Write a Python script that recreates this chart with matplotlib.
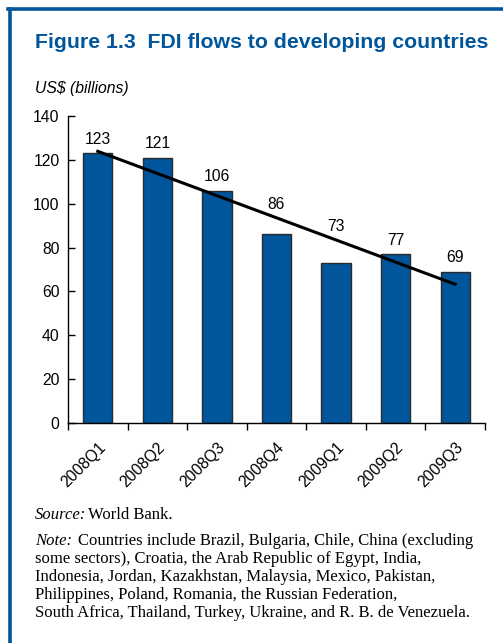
import matplotlib
matplotlib.use('Agg')
import matplotlib.pyplot as plt
import numpy as np

quarters = ['2008Q1', '2008Q2', '2008Q3', '2008Q4', '2009Q1', '2009Q2', '2009Q3']
fdi = [123, 121, 106, 86, 73, 77, 69]
yticks = [0, 20, 40, 60, 80, 100, 120, 140]

title = 'Figure 1.3  FDI flows to developing countries'
unit = 'US$ (billions)'
source = 'World Bank.'
note_lines = [
    'Countries include Brazil, Bulgaria, Chile, China (excluding',
    'some sectors), Croatia, the Arab Republic of Egypt, India,',
    'Indonesia, Jordan, Kazakhstan, Malaysia, Mexico, Pakistan,',
    'Philippines, Poland, Romania, the Russian Federation,',
    'South Africa, Thailand, Turkey, Ukraine, and R. B. de Venezuela.',
]

blue = '#00559b'
plt.rcParams['font.family'] = ['Liberation Sans', 'DejaVu Sans']

fig = plt.figure(figsize=(5.03, 6.43), dpi=100)

# frame: top and left blue rules
fig.add_artist(plt.Line2D([9.5 / 503, 9.5 / 503], [0, 1 - 8.5 / 643], color=blue, lw=2.6,
                          transform=fig.transFigure))
fig.add_artist(plt.Line2D([8.2 / 503, 1], [1 - 8.5 / 643, 1 - 8.5 / 643], color=blue, lw=2.6,
                          transform=fig.transFigure))

fig.text(35 / 503, 1 - 42 / 643, title, color=blue, fontsize=15.3, fontweight='bold',
         va='center', ha='left')
fig.text(35 / 503, 1 - 89 / 643, unit, fontsize=11.3, style='italic', va='center', ha='left')

ax = fig.add_axes([68 / 503, 1 - 423 / 643, (485 - 68) / 503, (423 - 116) / 643])
x = np.arange(len(quarters))
ax.bar(x, fdi, width=0.49, color=blue, edgecolor='#2a2a2a', linewidth=1.0, zorder=2)

# linear trend
k, b = np.polyfit(x, fdi, 1)
trend = k * x + b
ax.plot([x[0], x[-1]], [trend[0], trend[-1]], color='black', lw=2.2, zorder=3)

# value labels sit above the bar, or above the trend line where it passes over the bar
for xi, v, t in zip(x, fdi, trend):
    base = t if t - v > 2 else v
    ax.annotate(str(v), (xi, base), xytext=(0, 4.5), textcoords='offset points',
                ha='center', va='bottom', fontsize=11.3)

ax.set_xlim(-0.5, len(quarters) - 0.5)
ax.set_ylim(0, 140)
ax.set_yticks(yticks)
ax.tick_params(axis='y', labelsize=11.3, length=5, width=1, direction='in', pad=6)

# boundary ticks (major, unlabeled) and labels at bar centers (minor, no tick)
ax.set_xticks(np.arange(len(quarters) + 1) - 0.5)
ax.set_xticklabels([])
ax.tick_params(axis='x', which='major', length=5, width=1, direction='out')
ax.set_xticks(x, minor=True)
ax.set_xticklabels(quarters, minor=True, rotation=45, ha='right', rotation_mode='anchor',
                   fontsize=11.3)
ax.tick_params(axis='x', which='minor', length=0, pad=12)

ax.spines['top'].set_visible(False)
ax.spines['right'].set_visible(False)
ax.spines['left'].set_linewidth(1)
ax.spines['bottom'].set_linewidth(1)

serif = ['Liberation Serif', 'DejaVu Serif']
fs = 12
src = fig.text(35 / 503, 1 - 519 / 643, 'Source:', fontsize=fs, family=serif, style='italic',
               va='baseline', ha='left')
ax.annotate(source, xy=(1, 0), xycoords=src, xytext=(1.5, 0), textcoords='offset points',
            fontsize=fs, family=serif, va='bottom', ha='left', annotation_clip=False)
note = fig.text(35 / 503, 1 - 545 / 643, 'Note:', fontsize=fs, family=serif, style='italic',
                va='baseline', ha='left')
ax.annotate(note_lines[0], xy=(1, 0), xycoords=note, xytext=(4, 0), textcoords='offset points',
            fontsize=fs, family=serif, va='bottom', ha='left', annotation_clip=False)
for i, line in enumerate(note_lines[1:], start=1):
    fig.text(35 / 503, 1 - (545 + 18 * i) / 643, line, fontsize=fs, family=serif,
             va='baseline', ha='left')

fig.savefig('out.png', dpi=100)
